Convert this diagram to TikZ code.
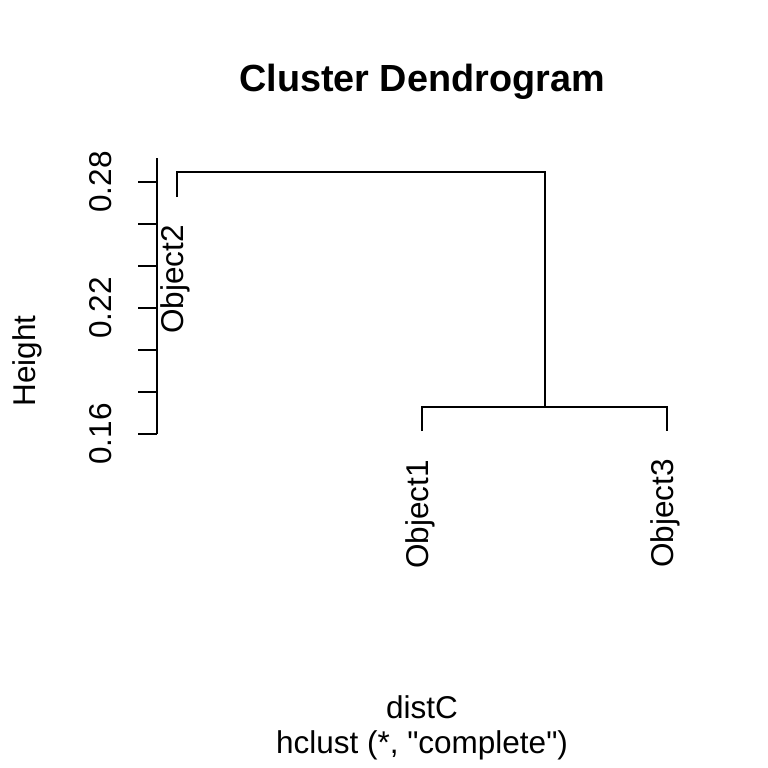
\documentclass[tikz,border=0pt]{standalone}
\usepackage{fontspec}
\setmainfont{Liberation Sans}[Ligatures=TeXOff]
\begin{document}
\begin{tikzpicture}[x=1pt,y=-1pt, line width=2pt,
  lab/.style={font=\fontsize{31.5}{38}\selectfont, inner sep=0pt},
  leaflab/.style={lab, rotate=90, anchor=east},
  rotlab/.style={lab, rotate=90, anchor=base},
  hlab/.style={lab, anchor=base},
  branch/.style={draw, line cap=butt},
  tick/.style={draw}]
\useasboundingbox (0,0) rectangle (768,768);
% axis
\coordinate (axtop) at (157,158);
\coordinate (axbot) at (157,434);
\draw (axtop) -- (axbot);
\foreach \v/\yy in {16/434,18/392,20/350,22/308,24/266,26/224,28/182}{
  \coordinate (t\v) at (157,\yy);
  \draw[tick] (t\v) -- ++(-19,0);
}
\node[rotlab] (y28) at (111,182) {0.28};
\node[rotlab] (y22) at (111,308) {0.22};
\node[rotlab] (y16) at (111,434) {0.16};
\node[rotlab] (ylab) at (35,361) {Height};
% dendrogram
\coordinate (o2) at (177,197);
\coordinate (o1) at (422,431);
\coordinate (o3) at (667,431);
\coordinate (m13) at (545,406.5);
\coordinate (root) at (545,172);
\draw[branch] (o1) |- (m13) -| (o3);
\draw[branch] (o2) |- (root) -- (m13);
% leaf labels
\node[leaflab] (l2) at (175,224) {Object2};
\node[leaflab] (l1) at (420,459) {Object1};
\node[leaflab] (l3) at (665,458) {Object3};
% titles
\node[font=\bfseries\fontsize{37.8}{45}\selectfont, inner sep=0pt, anchor=base] (title) at (422,91) {Cluster Dendrogram};
\node[hlab] (xlab) at (422,718) {distC};
\node[hlab] (sub) at (422,753) {hclust (*, "complete")};
\end{tikzpicture}
\end{document}
